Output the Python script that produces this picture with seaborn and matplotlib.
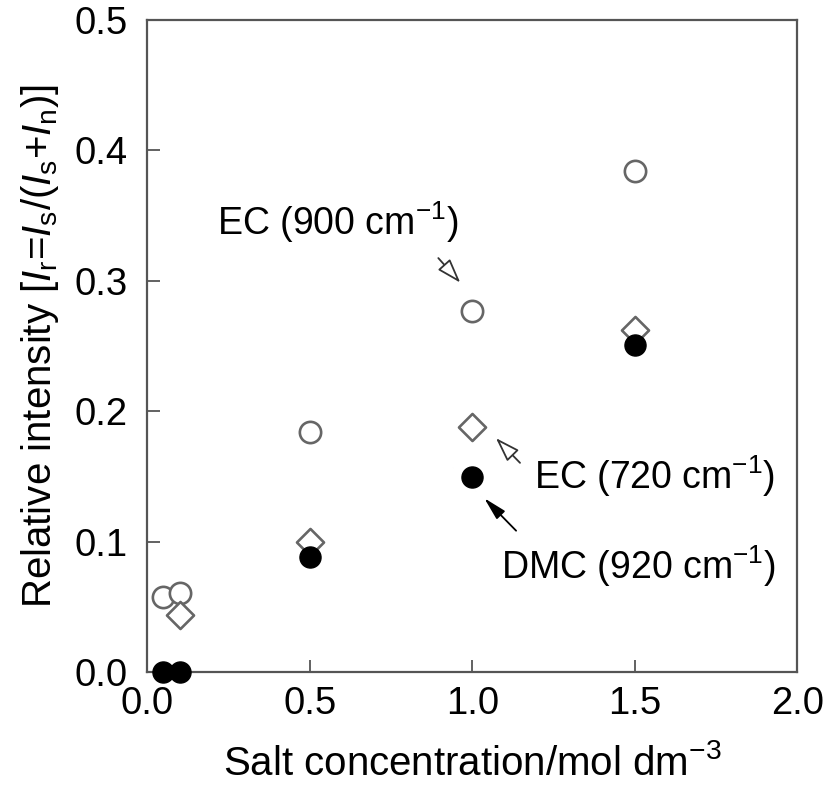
import seaborn as sb
import matplotlib.pyplot as plt
import pandas as pd

# dati
conc_ec900 = [0.05, 0.10, 0.5, 1.0, 1.5]
ri_ec900 = [0.058, 0.061, 0.184, 0.277, 0.384]

conc_ec720 = [0.10, 0.5, 1.0, 1.5]
ri_ec720 = [0.044, 0.100, 0.188, 0.262]

conc_dmc920 = [0.05, 0.10, 0.5, 1.0, 1.5]
ri_dmc920 = [0.0, 0.0, 0.088, 0.150, 0.251]

x_ticks = [0.0, 0.5, 1.0, 1.5, 2.0]
y_ticks = [0.0, 0.1, 0.2, 0.3, 0.4, 0.5]

sb.set_style('white')
plt.rcParams['font.family'] = ['Liberation Sans', 'DejaVu Sans']
plt.rcParams['text.color'] = 'black'
plt.rcParams['axes.labelcolor'] = 'black'
plt.rcParams['xtick.color'] = 'black'
plt.rcParams['ytick.color'] = 'black'
plt.rcParams['mathtext.fontset'] = 'custom'
plt.rcParams['mathtext.rm'] = 'Liberation Sans'
plt.rcParams['mathtext.it'] = 'Liberation Sans:italic'

df_ec900 = pd.DataFrame({'conc': conc_ec900, 'ri': ri_ec900})
df_ec720 = pd.DataFrame({'conc': conc_ec720, 'ri': ri_ec720})
df_dmc = pd.DataFrame({'conc': conc_dmc920, 'ri': ri_dmc920})

fig = plt.figure(figsize=(8.27, 7.91), dpi=100)
ax = fig.add_axes([0.178, 0.150, 0.786, 0.825])

grigio = '#666666'
sb.scatterplot(data=df_ec900, x='conc', y='ri', marker='o', s=235,
               facecolor='white', edgecolor=grigio, linewidth=1.9, ax=ax, zorder=3)
sb.scatterplot(data=df_ec720, x='conc', y='ri', marker='D', s=190,
               facecolor='white', edgecolor=grigio, linewidth=1.9, ax=ax, zorder=3)
sb.scatterplot(data=df_dmc, x='conc', y='ri', marker='o', s=230,
               color='black', edgecolor='black', linewidth=1, ax=ax, zorder=4,
               clip_on=False)

ax.set_xlim(0, 2.0)
ax.set_ylim(0, 0.5)
ax.set_xticks(x_ticks)
ax.set_yticks(y_ticks)
ax.set_xticklabels([f'{v:.1f}' for v in x_ticks])
ax.set_yticklabels([f'{v:.1f}' for v in y_ticks])
ax.tick_params(direction='in', length=9, width=1.3, color='#555555',
               bottom=True, left=True, labelsize=27.5)
ax.tick_params(axis='x', pad=10)
ax.tick_params(axis='y', pad=14)

for sp in ax.spines.values():
    sp.set_color('#555555')
    sp.set_linewidth(1.6)

ax.set_xlabel('Salt concentration/mol dm$^{-3}$', fontsize=29, labelpad=16)
ax.set_ylabel(r'Relative intensity [$I_{\mathrm{r}}$=$I_{\mathrm{s}}$/($I_{\mathrm{s}}$+$I_{\mathrm{n}}$)]',
              fontsize=29, labelpad=10)

# annotazioni con frecce
testo = dict(fontsize=27, va='center', ha='left')
freccia_aperta = dict(arrowstyle='-|>,head_length=1.5,head_width=0.5',
                      facecolor='white', edgecolor='#333333', lw=1.3)
ax.annotate('', xy=(0.969, 0.297), xytext=(0.89, 0.319), arrowprops=freccia_aperta)
ax.text(0.215, 0.345, 'EC (900 cm$^{-1}$)', **testo)

ax.annotate('', xy=(1.067, 0.181), xytext=(1.153, 0.159), arrowprops=freccia_aperta)
ax.text(1.19, 0.150, 'EC (720 cm$^{-1}$)', **testo)

ax.annotate('', xy=(1.031, 0.135), xytext=(1.141, 0.107),
            arrowprops=dict(arrowstyle='-|>,head_length=1.4,head_width=0.35',
                            facecolor='black', edgecolor='black', lw=1.3))
ax.text(1.089, 0.081, 'DMC (920 cm$^{-1}$)', **testo)

fig.savefig('out.png', dpi=100)
